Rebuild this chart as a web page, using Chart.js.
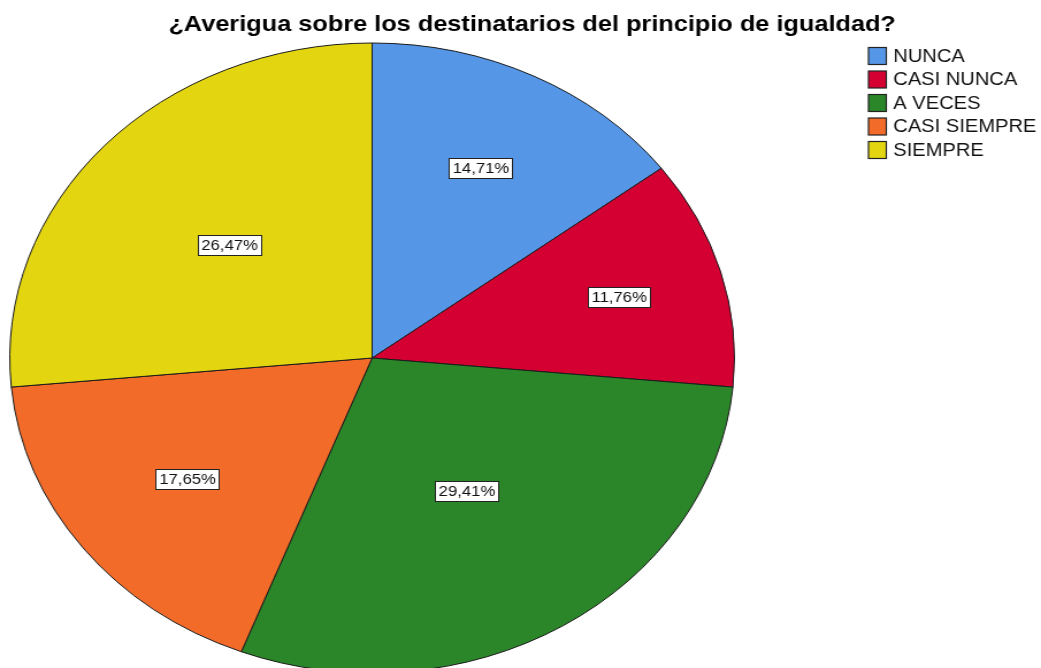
<!DOCTYPE html>
<html>
<head>
<meta charset="utf-8">
<script src="https://cdn.jsdelivr.net/npm/chart.js@4/dist/chart.umd.min.js"></script>
<style>
  html, body { margin: 0; padding: 0; background: #ffffff; overflow: hidden; }
  #wrap { width: 905px; height: 668px; transform: scaleX(1.1503); transform-origin: 0 0; }
</style>
</head>
<body>
<div id="wrap"><canvas id="c" width="905" height="668"></canvas></div>
<script>
const titleText = '¿Averigua sobre los destinatarios del principio de igualdad?';
const categories = ['NUNCA', 'CASI NUNCA', 'A VECES', 'CASI SIEMPRE', 'SIEMPRE'];
const percentages = [14.71, 11.76, 29.41, 17.65, 26.47];
const sliceColors = ['#5596e6', '#d50032', '#2a8629', '#f26b29', '#e3d611'];

const FONT = '"Liberation Sans", Arial, sans-serif';

const labelPlugin = {
  id: 'sliceLabels',
  afterDatasetsDraw(chart) {
    const ctx = chart.ctx;
    const meta = chart.getDatasetMeta(0);
    const values = chart.data.datasets[0].data;
    ctx.save();
    ctx.font = '14.5px ' + FONT;
    ctx.textAlign = 'center';
    ctx.textBaseline = 'middle';
    meta.data.forEach((arc, i) => {
      const p = arc.getProps(['x', 'y', 'startAngle', 'endAngle', 'outerRadius'], true);
      const a = p.endAngle - p.startAngle;
      const share = a / (2 * Math.PI);
      const mid = (p.startAngle + p.endAngle) / 2;
      // smaller slices get their label pushed further out
      const d = p.outerRadius * (0.85 - 1.2 * share);
      const cx = p.x + d * Math.cos(mid);
      const cy = p.y + d * Math.sin(mid);
      const txt = values[i].toFixed(2).replace('.', ',') + '%';
      const w = ctx.measureText(txt).width + 6;
      const h = 20;
      ctx.fillStyle = '#ffffff';
      ctx.fillRect(Math.round(cx - w / 2) + 0.5, Math.round(cy - h / 2) + 0.5, Math.round(w), h);
      ctx.strokeStyle = '#222222';
      ctx.lineWidth = 1;
      ctx.strokeRect(Math.round(cx - w / 2) + 0.5, Math.round(cy - h / 2) + 0.5, Math.round(w), h);
      ctx.fillStyle = '#111111';
      ctx.fillText(txt, cx, cy + 1);
    });
    ctx.restore();
  }
};

const titleLegendPlugin = {
  id: 'titleLegend',
  afterDraw(chart) {
    const ctx = chart.ctx;
    ctx.save();
    // title
    ctx.font = 'bold 22px ' + FONT;
    ctx.fillStyle = '#000000';
    ctx.textAlign = 'center';
    ctx.textBaseline = 'alphabetic';
    ctx.fillText(titleText, 462.6, 31);
    // legend
    const labels = chart.data.labels;
    const cols = chart.data.datasets[0].backgroundColor;
    ctx.font = '17.5px ' + FONT;
    ctx.textAlign = 'left';
    ctx.textBaseline = 'middle';
    labels.forEach((lab, i) => {
      const cy = 56 + i * 23.5;
      ctx.fillStyle = cols[i];
      ctx.fillRect(755, cy - 8.5, 15.5, 17);
      ctx.strokeStyle = '#222222';
      ctx.lineWidth = 1.2;
      ctx.strokeRect(755, cy - 8.5, 15.5, 17);
      ctx.fillStyle = '#111111';
      ctx.fillText(lab, 776.5, cy + 1);
    });
    ctx.restore();
  }
};

new Chart(document.getElementById('c'), {
  type: 'pie',
  data: {
    labels: categories,
    datasets: [{
      data: percentages,
      backgroundColor: sliceColors,
      borderColor: '#1a1a1a',
      borderWidth: 1
    }]
  },
  options: {
    responsive: false,
    animation: false,
    radius: 315,
    layout: { padding: { left: 8.5, right: 266.5, top: 48, bottom: 0 } },
    plugins: {
      legend: { display: false },
      title: { display: false },
      tooltip: { enabled: false }
    }
  },
  plugins: [labelPlugin, titleLegendPlugin]
});
</script>
</body>
</html>
